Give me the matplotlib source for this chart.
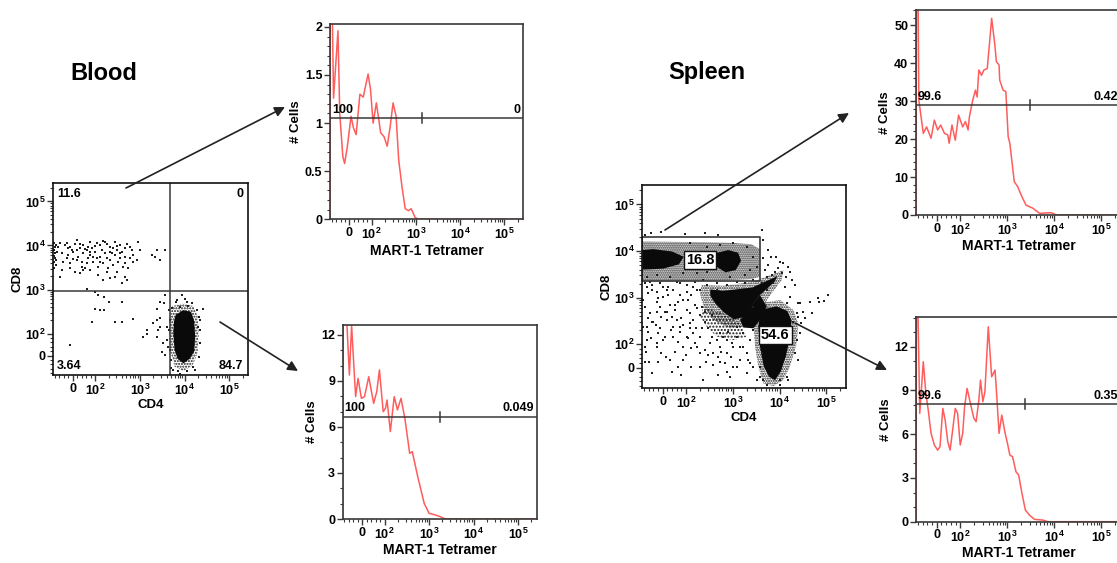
import matplotlib
matplotlib.use('Agg')
import matplotlib.pyplot as plt
from matplotlib.patches import FancyArrowPatch
from matplotlib.ticker import MultipleLocator, FixedLocator, FixedFormatter, NullFormatter, FuncFormatter
from matplotlib.transforms import blended_transform_factory

plt.rcParams['font.family'] = 'Liberation Sans'
plt.rcParams['font.weight'] = 'bold'
plt.rcParams['axes.labelweight'] = 'bold'
plt.rcParams['mathtext.fontset'] = 'custom'
plt.rcParams['mathtext.rm'] = 'Liberation Sans:bold'
plt.rcParams['mathtext.bf'] = 'Liberation Sans:bold'
plt.rcParams['mathtext.it'] = 'Liberation Sans:bold'
plt.rcParams['hatch.linewidth'] = 1.0

clrRed = (1.0, 0.36, 0.36)
clrBox = (0.22, 0.22, 0.22)
clrDot = (0.12, 0.12, 0.12)

# ---------------- histograms (MART-1 tetramer) ----------------
# Blood, CD8+ gate
bl8_x = [-88, -87, -78, -72, -52, -44, -30, -22, -10, 7, 18, 30, 47, 62, 84, 95, 108, 128, 160,
         190, 225, 260, 305, 357, 408, 484, 574, 681, 782, 958, 1136, 262144]
bl8_y = [0, 2.2, 2.2, 1.26, 1.96, 1.1, 0.65, 0.58, 0.75, 1.07, 0.95, 0.88, 1.30, 1.27, 1.51, 1.35,
         1.00, 1.21, 0.90, 0.86, 0.76, 0.95, 1.21, 1.07, 0.62, 0.34, 0.11, 0.09, 0.11, 0.02, 0, 0]
# Blood, CD4+ gate
bl4_x = [-88, -86, -70, -58, -48, -30, -19, -4, 10, 29, 51, 65, 77, 94, 105, 114, 135, 165, 195,
         234, 286, 367, 420, 557, 778, 1000, 1396, 1796, 2300, 262144]
bl4_y = [0, 13.0, 13.0, 9.39, 12.6, 7.98, 9.17, 7.87, 7.98, 9.28, 7.54, 8.30, 9.72, 7.0, 7.22,
         7.76, 5.70, 7.98, 7.11, 7.87, 6.57, 4.28, 4.39, 2.76, 1.02, 0.37, 0.26, 0.15, 0, 0]
# Spleen, CD8+ gate
sp8_x = [-88, -86, -79, -76, -57, -43, -24, -10, 4, 17, 33, 47, 53, 65, 79, 93, 113, 129, 147, 157,
         185, 211, 229, 249, 284, 319, 376, 422, 466, 541, 587, 670, 692, 817, 933, 1047, 1135,
         1409, 1660, 2056, 2506, 3490, 4864, 8650, 11090, 262144]
sp8_y = [0, 56, 56, 30.3, 21.5, 23.2, 20.2, 25.0, 22.4, 23.7, 21.5, 21.1, 18.9, 23.7, 19.7, 26.3,
         23.2, 24.6, 22.4, 25.9, 30.3, 32.9, 31.1, 38.2, 36.8, 38.2, 38.6, 45.6, 51.8, 45.2, 40.4,
         39.5, 35.5, 32.9, 32.5, 20.6, 18.9, 8.8, 7.5, 4.8, 2.6, 1.8, 0.44, 0.6, 0, 0]
# Spleen, CD4+ gate
sp4_x = [-88, -86, -79, -72, -57, -46, -36, -24, -10, 4, 14, 26, 36, 47, 57, 67, 79, 89, 100, 113,
         124, 140, 165, 195, 218, 249, 270, 303, 335, 395, 466, 550, 597, 670, 765, 902, 1012,
         1135, 1297, 1530, 1746, 2056, 2428, 2958, 3793, 5730, 7345, 262144]
sp4_y = [0, 15, 13.9, 7.43, 10.97, 8.8, 7.66, 6.06, 5.26, 4.91, 5.14, 7.77, 6.97, 5.49, 4.91,
         6.17, 7.77, 7.43, 5.26, 6.06, 7.89, 9.14, 8.11, 7.09, 6.86, 8.34, 9.71, 8.23, 8.91, 13.37,
         9.94, 10.4, 8.69, 6.06, 7.31, 6.06, 5.37, 4.57, 4.46, 3.43, 3.2, 1.94, 0.8, 0.46, 0.16,
         0.11, 0, 0]

# gates: (y level, x marker, left %, right %)
bl8_gate = (1.05, 1400, '100', '0')
bl4_gate = (6.67, 1780, '100', '0.049')
sp8_gate = (28.9, 3110, '99.6', '0.42')
sp4_gate = (8.07, 2385, '99.6', '0.35')

# ---------------- dot plots (CD4 vs CD8) ----------------
bl_quad = (4750, 946)
bl_quad_pct = ['11.6', '0', '3.64', '84.7']
bl_events = [
    (-57, 11270), (-34, 10330), (-12, 9480), (10, 10700), (33, 8690), (48, 10330), (70, 9480),
    (85, 8690), (109, 11270), (129, 10330), (167, 12300), (216, 9480), (280, 11850), (362, 10330),
    (468, 8690), (661, 7960), (931, 11850), (-49, 6680), (-19, 6130), (3, 7300), (25, 5610),
    (48, 6680), (78, 6130), (100, 7300), (129, 5610), (167, 6680), (216, 7300), (280, 6130),
    (362, 6680), (468, 5610), (607, 5150), (855, 4720), (-42, 4330), (-12, 3960), (18, 4720),
    (40, 3330), (63, 3960), (92, 4330), (118, 3330), (153, 3960), (198, 3050), (257, 3630),
    (332, 4330), (430, 3330), (557, 3050), (-57, 1970), (33, 2350), (55, 3050), (118, 2150),
    (153, 1660), (216, 1870), (280, 1970), (468, 1970), (511, 1660), (394, 1390), (1850, 6130),
    (2393, 7960), (2844, 4720), (3680, 7960), (2200, 5610), (-12, 3050), (10, 2560), (78, 2790),
    (305, 2560), (720, 6130), (109, 5150), (182, 5150), (-19, 8690), (18, 7960), (63, 7960),
    (92, 5610), (257, 8690), (305, 7960), (-84, 11270), (-79, 9480), (-83, 7960), (-78, 6680),
    (-84, 5800), (-79, 5150), (-83, 4330), (-76, 3630), (-84, 3050), (-75, 10330), (-72, 7300),
    (-75, 4720), (-64, 9200), (-27, 11270), (-4, 7960), (33, 10900), (55, 8250), (78, 7300),
    (100, 9800), (140, 7960), (182, 10900), (236, 6680), (305, 9800), (394, 7300), (511, 10900),
    (-27, 5150), (3, 4880), (40, 4330), (70, 5150), (129, 4330), (216, 4720), (362, 5150),
    (468, 4100), (48, 2790), (182, 2560), (720, 4330), (1014, 7960), (-49, 2790), (607, 9200),
    (78, 12300), (18, 13430), (153, 12800),
    (63, 1050), (100, 900), (118, 760), (158, 660), (209, 535), (100, 357), (129, 344), (158, 344),
    (394, 520), (85, 181), (280, 187), (394, 187), (720, 214), (-12, 49), (1429, 121), (1165, 86),
    (1429, 96), (2480, 204), (2844, 230), (2844, 535), (3680, 760), (2393, 357), (3560, 500),
    (6714, 590), (8680, 760), (10300, 610), (26490, 357), (4390, 344), (4750, 204), (4390, 121),
    (4009, 71), (4640, 26), (4930, -20), (5650, -65), (7300, -72), (11220, -72), (15810, -50),
    (20800, -5), (22000, 56), (22340, 121), (21200, 243), (18790, 344), (12200, 425), (7960, 410),
    (5180, 377), (4009, 144), (19500, 144), (4230, 41), (6400, 535), (11220, 510), (14540, 489),
    (7960, -83), (22340, 204), (17250, -65), (5020, -57), (2844, 144), (2393, 86), (3373, 56),
    (3100, 18), (2600, 121), (3680, 3), (2018, 171),
]
# dense CD4+ cloud in blood
bl_cd4_core_x = [6400, 9460, 14000, 16500, 17300, 16500, 13000, 9460, 7000, 6000, 5600, 5800]
bl_cd4_core_y = [270, 340, 310, 190, 86, 20, -15, -35, -15, 26, 102, 187]
bl_cd4_halo_x = [5300, 9460, 15800, 19500, 20800, 19500, 15000, 9460, 6000, 4800, 4500, 4700]
bl_cd4_halo_y = [420, 480, 420, 250, 100, 10, -45, -70, -50, 20, 110, 250]

sp_gate8 = (-88, 3810, 2300, 20300)   # x0, x1, y0, y1
sp_pct8 = ('16.8', 199, 6400)
sp_pct4 = ('54.6', 7980, 157)
sp_events = [
    (-41, 305), (-27, 259), (-5, 390), (9, 500), (30, 695), (52, 542), (80, 360), (87, 259),
    (38, 202), (-19, 171), (-48, 134), (2, 123), (66, 113), (110, 134), (141, 171), (166, 220),
    (130, 82), (52, 68), (16, 46), (-19, 25), (101, 54), (196, 61), (250, 75), (66, 4), (231, -54),
    (272, 25), (378, 11), (484, 46), (570, 68), (670, 18), (930, 46), (110, 890), (153, 695),
    (196, 424), (250, 305), (300, 220), (-70, 68), (-56, 25), (-63, 360), (66, 820), (23, 1140),
    (-19, 965), (-47, 1456), (17, 1456), (74, 1140), (-11, 640), (-54, 460), (122, 460),
    (169, 1456), (46, 145), (89, 89), (-68, 123), (353, 145), (533, 171), (740, 123), (1028, 89),
    (1426, 89), (1977, 61), (2333, 123), (2750, 4), (3810, -39), (5300, -75), (1426, 32),
    (871, -39), (44000, 820), (66000, 965), (71000, 820), (88000, 850), (108000, 1140),
    (49000, 460), (34500, 360), (29000, 281), (24500, 390), (19300, 305), (4420, 17220),
    (5650, 10500), (6650, 7550), (8500, 7550), (10000, 5900), (15100, 4610), (16400, 3600),
    (13900, 2810), (18100, 2390), (21000, 1860), (-48, 23930), (-5, 25200), (95, 22700),
    (250, 23930), (484, 22000), (-75, 22000), (4140, 28250), (3240, -54), (10200, -54),
    (14160, -39), (23170, 123), (21400, 61), (2750, 640), (23170, 460), (122, 14620), (169, 3320),
    (277, 12390), (533, 13450), (1028, 14620), (1977, 12390), (2750, 7550), (2333, 3910),
    (3240, 4610), (1820, 3055), (169, 9680), (89, 3320), (32, 2810), (-25, 3055), (-68, 2810),
    (277, 3600), (871, 2810), (-75, 2020), (-47, 1860), (-11, 2020), (24, 1718), (60, 2200),
    (103, 1860), (156, 2200), (235, 2390), (-61, 1236), (-82, 890), (-82, 238), (-75, 89),
    (-25, 89), (17, 330), (74, 238), (122, 281), (199, 145), (169, 89), (384, 61), (533, 89),
    (740, 61), (1028, 4), (1977, -25), (2333, 18), (1680, 171), (1211, 238), (216, 640),
    (452, 1456), (740, 1860), (1211, 2200), (5300, 1456), (7350, 2020), (13000, 1718),
    (16670, 1047), (27290, 754),
    (-68, 1718), (-26, 1340), (3, 1718), (46, 1456), (103, 1340), (144, 1718), (199, 1456),
    (-75, 640), (-25, 500), (39, 390), (60, 330), (103, 542), (144, 330), (74, 186), (10, 145),
    (-26, 104), (-61, 186), (103, 145), (156, 104), (216, 220), (326, 104), (452, 123),
    (628, 145), (800, 186), (950, 104), (1211, 145), (1680, 89), (2150, 32), (1211, 4),
    (740, -18), (490, -32), (130, 4), (80, -32), (39, -18), (-47, -25), (-5, 61), (32, 32),
    (-75, 25), (89, 32), (199, 4), (300, 54), (533, 25), (353, 424), (255, 500), (169, 589),
    (130, 1140), (89, 890), (52, 695), (17, 500), (-47, 305), (-68, 238), (-11, 220), (46, 238),
    (122, 220), (-26, 820), (3, 1047), (-54, 2200), (74, 2020), (277, 1860), (452, 2020),
    (1820, 2020), (2750, 2390), (4140, 2020), (5300, 2810), (4870, 3910), (5740, 5000),
    (4490, 7000), (7980, 3600), (6800, 3055), (9400, 4250), (12020, 5430), (11070, 3320),
    (2750, 202), (5300, 145), (4140, 61), (3810, 4), (4490, -54), (10200, -75), (15380, -54),
    (25000, 32), (27290, 171), (25000, 754), (32000, 500), (14160, 754),
]
# dense populations in spleen (outlines)
sp_band_x = [-88, 300, 1000, 2500, 3810, 3810, 2500, 1000, 300, -88]
sp_band_y = [16000, 15500, 15000, 14000, 11000, 2800, 2500, 2400, 2300, 2200]
sp_core1_x = [-88, -40, 40, 90, 70, 3, -88]
sp_core1_y = [10500, 11000, 9800, 7550, 5200, 4200, 4000]
sp_core2_x = [420, 800, 1300, 1500, 1150, 700, 450]
sp_core2_y = [9000, 10500, 9200, 6200, 3900, 3500, 4600]
sp_dn_x = [330, 628, 2600, 9000, 7800, 3810, 1680, 1050, 650, 420, 330]
sp_dn_y = [1500, 1400, 1650, 2900, 2200, 1138, 380, 340, 480, 754, 1100]
sp_link_x = [1426, 3810, 5300, 3810, 2750, 1680]
sp_link_y = [330, 1138, 640, 330, 220, 228]
sp_dn_halo_x = [216, 628, 2750, 12020, 11070, 5300, 5300, 1977, 871, 384, 235, 199]
sp_dn_halo_y = [1860, 1800, 2200, 3910, 2390, 890, 542, 238, 220, 330, 640, 1236]
sp_under_x = [235, 628, 1426, 1977, 1028, 452, 277, 199]
sp_under_y = [640, 460, 281, 145, 123, 145, 238, 390]
sp_cd4_x = [4400, 8650, 14500, 18000, 16800, 13500, 10700, 7980, 6000, 4600, 3800, 3500, 3800]
sp_cd4_y = [560, 650, 520, 330, 145, 46, -15, -55, -40, 4, 89, 238, 424]
sp_cd4_halo_x = [3810, 10200, 19680, 25200, 23170, 16670, 12020, 7350, 4490, 3515, 3000, 2750]
sp_cd4_halo_y = [754, 890, 542, 281, 104, 4, -54, -80, -68, 4, 89, 281]

# ---------------- figure ----------------
W, H = 1117, 563
fig = plt.figure(figsize=(W / 100, H / 100), dpi=100)

LIM = (-88, 262144)
MAJ = [0, 1e2, 1e3, 1e4, 1e5]
MAJ_LBL = ['0', r'$\mathbf{10^2}$', r'$\mathbf{10^3}$', r'$\mathbf{10^4}$', r'$\mathbf{10^5}$']
MINOR = [-80, -60, -40, -20, 20, 40, 60, 80] + [k * 10 ** d for d in range(2, 6) for k in range(2, 10)]


def px_axes(x0, y0, x1, y1):
    ax = fig.add_axes([x0 / W, 1 - y1 / H, (x1 - x0) / W, (y1 - y0) / H])
    for s in ax.spines.values():
        s.set_color(clrBox)
        s.set_linewidth(1.2)
    ax.tick_params(which='both', direction='out', color=clrBox, labelsize=9, pad=1.5)
    ax.tick_params(which='major', length=4, width=1)
    ax.tick_params(which='minor', length=2, width=0.8)
    ax.tick_params(top=False, right=False)
    return ax


def bilog(ax, which):
    if which == 'x':
        ax.set_xscale('symlog', linthresh=100, linscale=0.45)
        ax.set_xlim(*LIM)
        axis = ax.xaxis
    else:
        ax.set_yscale('symlog', linthresh=100, linscale=0.45)
        ax.set_ylim(*LIM)
        axis = ax.yaxis
    axis.set_major_locator(FixedLocator(MAJ))
    axis.set_major_formatter(FixedFormatter(MAJ_LBL))
    axis.set_minor_locator(FixedLocator(MINOR))
    axis.set_minor_formatter(NullFormatter())


def cloud(ax, xs, ys, hatch):
    # speckled density region, drawn as a dotted hatch
    ax.fill(xs, ys, fill=False, hatch=hatch, edgecolor='#1a1a1a', lw=0)


def hist_panel(box, xs, ys, ytop, ystep, yminor, gate):
    ax = px_axes(*box)
    bilog(ax, 'x')
    ax.plot(xs, ys, color=clrRed, lw=1.1)
    ax.set_ylim(0, ytop)
    ax.yaxis.set_major_locator(MultipleLocator(ystep))
    ax.yaxis.set_minor_locator(MultipleLocator(yminor))
    ax.yaxis.set_major_formatter(FuncFormatter(lambda v, p: f'{v:g}'))
    ax.set_xlabel('MART-1 Tetramer', fontsize=10, labelpad=1)
    ax.set_ylabel('# Cells', fontsize=9.5, labelpad=2)
    gy, gx, lbl_l, lbl_r = gate
    ax.axhline(gy, color=clrBox, lw=1.1)
    tr = blended_transform_factory(ax.transData, ax.transAxes)
    ya = gy / ytop
    ax.plot([gx, gx], [ya - 0.025, ya + 0.025], transform=tr, color=clrBox, lw=1.1)
    ax.text(0.01, ya + 0.012, lbl_l, transform=ax.transAxes, ha='left', va='bottom', fontsize=9)
    ax.text(0.985, ya + 0.012, lbl_r, transform=ax.transAxes, ha='right', va='bottom', fontsize=9)
    return ax


hist_panel((330, 24, 523, 219.3), bl8_x, bl8_y, 2.03, 0.5, 0.1, bl8_gate)
hist_panel((342.7, 325, 536.7, 519), bl4_x, bl4_y, 12.65, 3, 1, bl4_gate)
hist_panel((916, 10, 1121, 215), sp8_x, sp8_y, 54, 10, 2, sp8_gate)
hist_panel((916, 316.7, 1121, 521.7), sp4_x, sp4_y, 14.06, 3, 1, sp4_gate)

# Blood dot plot
ax = px_axes(53, 183, 248, 375)
for s in ax.spines.values():
    s.set_color('#111111')
bilog(ax, 'x')
bilog(ax, 'y')
cloud(ax, bl_cd4_halo_x, bl_cd4_halo_y, '......')
ax.fill(bl_cd4_core_x, bl_cd4_core_y, color='#0a0a0a', lw=0)
ax.scatter([e[0] for e in bl_events], [e[1] for e in bl_events], s=2.2, marker='s',
           color=clrDot, lw=0)
ax.axvline(bl_quad[0], color=clrBox, lw=1.1)
ax.axhline(bl_quad[1], color=clrBox, lw=1.1)
for (tx, ty, ha, va), t in zip([(0.02, 0.975, 'left', 'top'), (0.975, 0.975, 'right', 'top'),
                                (0.02, 0.015, 'left', 'bottom'), (0.975, 0.015, 'right', 'bottom')],
                               bl_quad_pct):
    ax.text(tx, ty, t, transform=ax.transAxes, ha=ha, va=va, fontsize=9)
ax.set_xlabel('CD4', fontsize=9.5, labelpad=1)
ax.set_ylabel('CD8', fontsize=9.5, labelpad=1)

# Spleen dot plot
ax = px_axes(642, 185, 846, 388)
for s in ax.spines.values():
    s.set_color('#111111')
bilog(ax, 'x')
bilog(ax, 'y')
cloud(ax, sp_band_x, sp_band_y, '........')
cloud(ax, sp_dn_halo_x, sp_dn_halo_y, '.......')
cloud(ax, sp_under_x, sp_under_y, '.....')
cloud(ax, sp_cd4_halo_x, sp_cd4_halo_y, '.......')
for px_, py_ in [(sp_core1_x, sp_core1_y), (sp_core2_x, sp_core2_y), (sp_dn_x, sp_dn_y),
                 (sp_link_x, sp_link_y), (sp_cd4_x, sp_cd4_y)]:
    ax.fill(px_, py_, color='#0a0a0a', lw=0)
ax.scatter([e[0] for e in sp_events], [e[1] for e in sp_events], s=2.2, marker='s',
           color=clrDot, lw=0)
x0, x1, y0, y1 = sp_gate8
ax.plot([x0, x1, x1, x0, x0], [y0, y0, y1, y1, y0], color=clrBox, lw=1.2)
for t, tx, ty in [sp_pct8, sp_pct4]:
    ax.text(tx, ty, t, ha='center', va='center', fontsize=10.5,
            bbox=dict(boxstyle='square,pad=0.15', fc='white', ec='#111111', lw=1))
ax.set_xlabel('CD4', fontsize=9.5, labelpad=1)
ax.set_ylabel('CD8', fontsize=9.5, labelpad=1)

# titles and arrows
fig.text(70 / W, 1 - 73 / H, 'Blood', fontsize=17, va='center', ha='left')
fig.text(668 / W, 1 - 73 / H, 'Spleen', fontsize=17, va='center', ha='left')
arrows = [((126, 188), (285, 107)), ((220, 322), (298, 371)),
          ((665, 230), (849, 113)), ((795, 323), (887, 370))]
for (xa, ya), (xb, yb) in arrows:
    fig.add_artist(FancyArrowPatch((xa / W, 1 - ya / H), (xb / W, 1 - yb / H),
                                   transform=fig.transFigure, arrowstyle='-|>',
                                   mutation_scale=15, lw=1.2, color='#222222',
                                   shrinkA=0, shrinkB=0))

fig.savefig('out.png', dpi=100)
